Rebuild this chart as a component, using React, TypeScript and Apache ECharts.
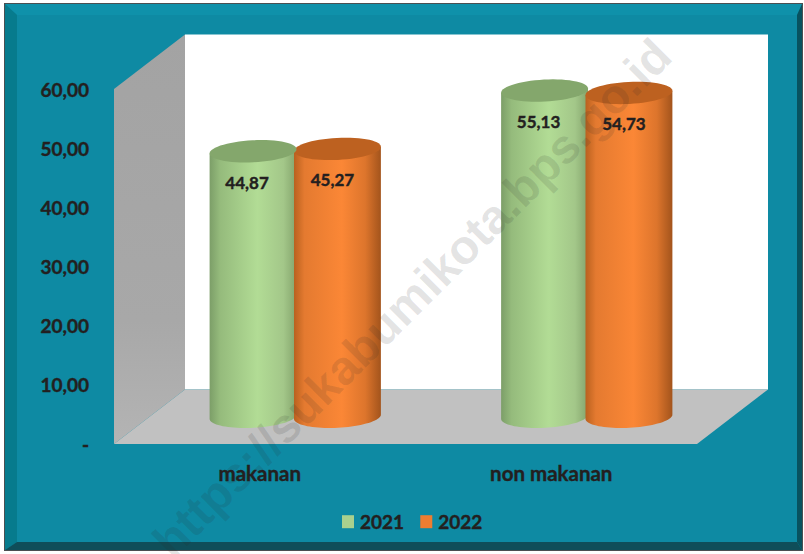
import React, { useEffect, useRef } from "react";
import * as echarts from "echarts";

const categories = ["makanan", "non makanan"];
const values2021 = [44.87, 55.13];
const values2022 = [45.27, 54.73];
const yearNames = ["2021", "2022"];
const watermarkText = "https://sukabumikota.bps.go.id";

const FONT = "Lato, 'Noto Sans', sans-serif";
const INK = "#231f20";
const G = { left: 114, right: 697, top: 89, bottom: 444 };
const DEPTH_X = 71;
const DEPTH_Y = 54.5;
const TILT = (-3 * Math.PI) / 180;
const RX = 43.5;
const RY = 11;
const BAR_SHIFT = 42.2;

const fmt = (v: number) => v.toFixed(2).replace(".", ",");

const ell = (cx: number, cy: number, from: number, to: number, n = 40) => {
  const pts: number[][] = [];
  for (let i = 0; i <= n; i++) {
    const t = from + ((to - from) * i) / n;
    const x = RX * Math.cos(t);
    const y = RY * Math.sin(t);
    pts.push([cx + x * Math.cos(TILT) - y * Math.sin(TILT), cy + x * Math.sin(TILT) + y * Math.cos(TILT)]);
  }
  return pts;
};

const hGrad = (stops: [number, string][]) => ({
  type: "linear",
  x: 0,
  y: 0,
  x2: 1,
  y2: 0,
  colorStops: stops.map(([offset, color]) => ({ offset, color })),
});

const greenBody = hGrad([
  [0, "#7c9e68"],
  [0.12, "#95bb7c"],
  [0.55, "#b2dc95"],
  [0.85, "#a3c789"],
  [1, "#84a46c"],
]);
const orangeBody = hGrad([
  [0, "#b9611f"],
  [0.12, "#e47a30"],
  [0.55, "#fb8736"],
  [0.82, "#dd752c"],
  [1, "#a3541c"],
]);

const place = (api: any, shift: number) => {
  const v = api.value(1);
  const top = api.coord([api.value(0), v]);
  const base = api.coord([api.value(0), 0]);
  return {
    cx: top[0] + DEPTH_X / 2 + shift,
    top: top[1] - DEPTH_Y / 2,
    base: base[1] - DEPTH_Y / 2,
    v,
  };
};

const bodyItem = (shift: number, fill: any, labelDx: number) => (_: any, api: any) => {
  const p = place(api, shift);
  const pts = [...ell(p.cx, p.top, Math.PI, Math.PI), ...ell(p.cx, p.base, Math.PI, 0), ...ell(p.cx, p.top, 0, 0)];
  return {
    type: "group",
    children: [
      { type: "polygon", shape: { points: pts }, style: { fill } },
      {
        type: "text",
        z2: 5,
        style: {
          text: fmt(p.v),
          x: p.cx + labelDx,
          y: p.top + 31,
          align: "center",
          verticalAlign: "middle",
          fill: INK,
          stroke: INK,
          lineWidth: 0.4,
          font: `bold 17px ${FONT}`,
        },
      },
    ],
  };
};

const capItem = (shift: number, fill: string) => (_: any, api: any) => {
  const p = place(api, shift);
  return { type: "polygon", shape: { points: ell(p.cx, p.top, 0, Math.PI * 2, 60) }, style: { fill } };
};

const seriesData = (vals: number[]) => vals.map((v, i) => [i, v]);

export default function App() {
  const ref = useRef<HTMLDivElement>(null);
  useEffect(() => {
    document.body.style.margin = "0";
    const chart = echarts.init(ref.current!, null, { renderer: "svg" });
    const gL = G.left;
    const gR = G.right;
    const gT = G.top;
    const gB = G.bottom;
    const bx = DEPTH_X;
    const by = DEPTH_Y;
    const heavy = { textBorderColor: INK, textBorderWidth: 0.4 };
    chart.setOption({
      animation: false,
      backgroundColor: "#ffffff",
      grid: { left: gL, right: 804 - gR, top: gT, bottom: 554 - gB },
      xAxis: {
        type: "category",
        data: categories,
        axisLine: { show: false },
        axisTick: { show: false },
        axisLabel: { color: INK, fontFamily: FONT, fontWeight: "bold", fontSize: 20.5, margin: 18, ...heavy },
      },
      yAxis: {
        type: "value",
        min: 0,
        max: 60,
        interval: 10,
        splitLine: { show: false },
        axisLine: { show: false },
        axisTick: { show: false },
        axisLabel: {
          color: INK,
          fontFamily: FONT,
          fontWeight: "bold",
          fontSize: 19,
          margin: 25,
          ...heavy,
          formatter: (v: number) => (v === 0 ? "-" : fmt(v)),
        },
      },
      legend: {
        data: yearNames,
        left: 337,
        top: 507,
        itemWidth: 12,
        itemHeight: 13,
        itemGap: 16,
        icon: "rect",
        selectedMode: false,
        textStyle: { color: INK, fontFamily: FONT, fontWeight: "bold", fontSize: 19, padding: [0, 0, 0, 1], ...heavy },
      },
      series: [
        {
          type: "custom",
          name: yearNames[0],
          z: 2,
          itemStyle: { color: "#a9d18e" },
          data: seriesData(values2021),
          renderItem: bodyItem(-BAR_SHIFT, greenBody, -6),
        },
        {
          type: "custom",
          name: yearNames[1],
          z: 3,
          itemStyle: { color: "#ed7d31" },
          data: seriesData(values2022),
          renderItem: bodyItem(BAR_SHIFT, orangeBody, -5),
        },
        {
          type: "custom",
          name: yearNames[1],
          z: 4,
          itemStyle: { color: "#ed7d31" },
          data: seriesData(values2022),
          renderItem: capItem(BAR_SHIFT, "#bd6120"),
        },
        {
          type: "custom",
          name: yearNames[0],
          z: 5,
          itemStyle: { color: "#a9d18e" },
          data: seriesData(values2021),
          renderItem: capItem(-BAR_SHIFT, "#84a76c"),
        },
      ],
      graphic: [
        { type: "rect", z: -10, shape: { x: 4, y: 3, width: 799, height: 548 }, style: { fill: "#4a4f52" } },
        { type: "rect", z: -9, shape: { x: 5, y: 4, width: 797, height: 546 }, style: { fill: "#0e8aa3" } },
        { type: "polygon", z: -8, shape: { points: [[5, 4], [802, 4], [797, 15], [17, 15]] }, style: { fill: "#0f91aa" } },
        { type: "polygon", z: -8, shape: { points: [[5, 4], [17, 15], [17, 542], [5, 550]] }, style: { fill: "#077b8d" } },
        { type: "polygon", z: -8, shape: { points: [[5, 550], [17, 542], [797, 542], [802, 550]] }, style: { fill: "#0f4e59" } },
        { type: "polygon", z: -8, shape: { points: [[797, 15], [802, 4], [802, 550], [797, 542]] }, style: { fill: "#08525f" } },
        { type: "rect", z: -7, shape: { x: gL + bx, y: gT - by, width: gR - gL, height: gB - gT }, style: { fill: "#ffffff" } },
        {
          type: "polygon",
          z: -6,
          shape: { points: [[gL, gT], [gL + bx, gT - by], [gL + bx, gB - by], [gL, gB]] },
          style: {
            fill: {
              type: "linear",
              x: 0,
              y: 0,
              x2: 0,
              y2: 1,
              colorStops: [
                { offset: 0, color: "#a3a3a3" },
                { offset: 0.7, color: "#a8a8a8" },
                { offset: 1, color: "#b4b4b4" },
              ],
            },
          },
        },
        {
          type: "polygon",
          z: -6,
          shape: { points: [[gL, gB], [gL + bx, gB - by], [gR + bx, gB - by], [gR, gB]] },
          style: { fill: "#c1c1c1" },
        },
        {
          type: "text",
          z: 100,
          x: 412,
          y: 298,
          rotation: Math.PI / 4,
          style: {
            text: watermarkText,
            align: "center",
            verticalAlign: "middle",
            fill: "rgba(40,40,40,0.13)",
            font: "bold 48px 'Liberation Sans', sans-serif",
          },
        },
      ],
    });
    return () => chart.dispose();
  }, []);
  return <div ref={ref} style={{ width: 804, height: 554 }} />;
}
